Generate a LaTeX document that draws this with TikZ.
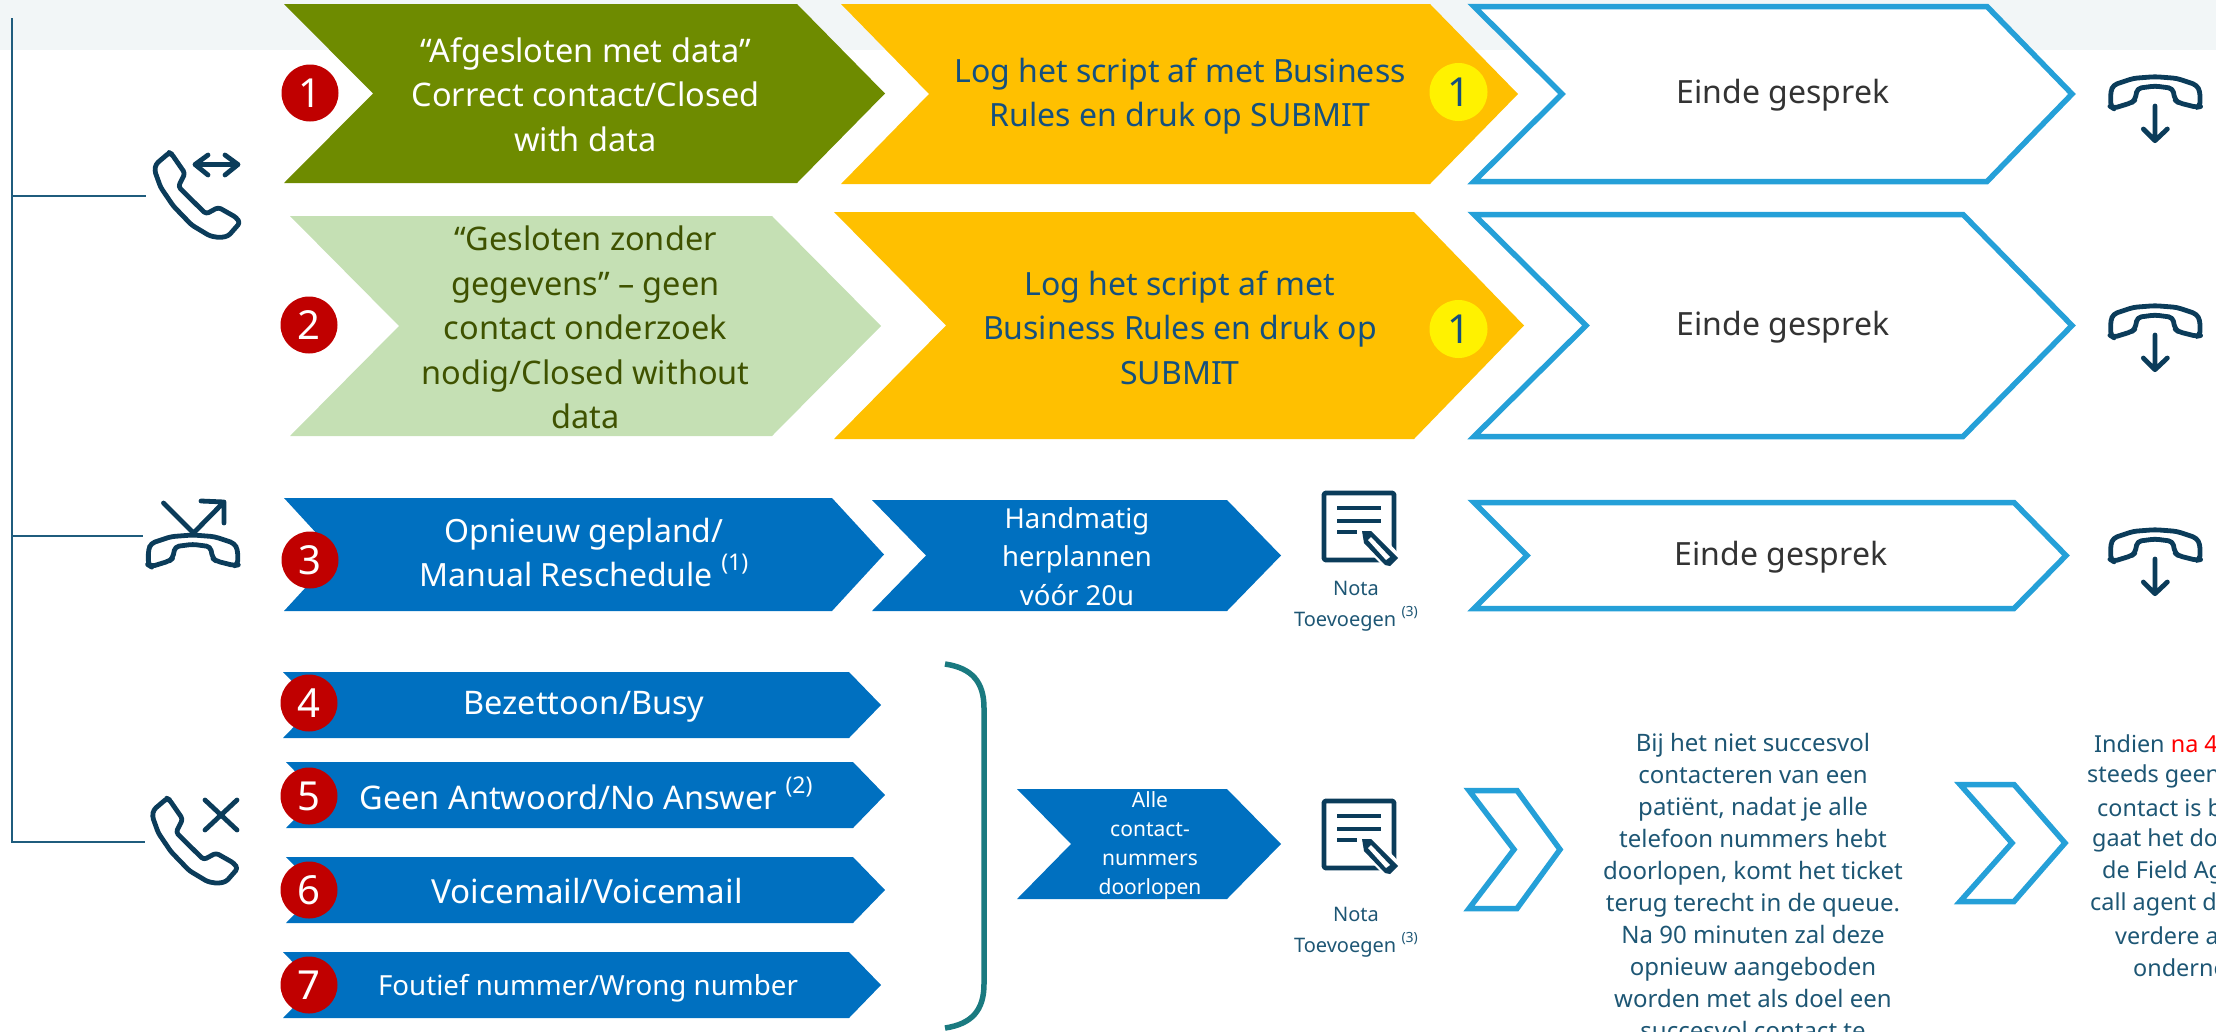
\documentclass[tikz,border=0pt]{standalone}
\usepackage{fontspec}
\setmainfont{Noto Sans}
\definecolor{stripbg}{HTML}{F2F6F7}
\definecolor{oliveg}{HTML}{6E8B00}
\definecolor{lightg}{HTML}{C5E0B4}
\definecolor{olivetext}{HTML}{3F5200}
\definecolor{gold}{HTML}{FFC000}
\definecolor{royal}{HTML}{0070C0}
\definecolor{sky}{HTML}{25A0D8}
\definecolor{navy}{HTML}{0B3C5A}
\definecolor{trunkc}{HTML}{1F5C7D}
\definecolor{parac}{HTML}{1D5674}
\definecolor{goldtext}{HTML}{14507F}
\definecolor{badge}{HTML}{C00000}
\definecolor{bracec}{HTML}{1A7A80}
\newcommand{\fsz}[2]{\fontsize{#1}{#2}\selectfont}
\newcommand{\supx}[1]{\raisebox{.5em}{\fontsize{23}{23}\selectfont #1}}
% \chev{style}{left}{topright}{tip}{notch}{top}{bottom}
\newcommand{\chev}[7]{\path[#1] (#2,#6) -- (#3,#6) -- (#4,{(#6+#7)/2}) -- (#3,#7) -- (#2,#7) -- (#5,{(#6+#7)/2}) -- cycle;}
\tikzset{
  x=1pt,y=-1pt,
  chevgreen/.style={fill=oliveg},
  chevlight/.style={fill=lightg},
  chevgold/.style={fill=gold},
  chevblue/.style={fill=royal},
  chevline/.style={draw=sky,fill=white,line width=5.5pt,miter limit=10},
  badgeo/.style={circle,fill=badge,text=white,minimum size=57pt,inner sep=0pt,font=\fsz{40}{40}},
  badgey/.style={circle,fill=yellow,text=goldtext,minimum size=58pt,inner sep=0pt,font=\fsz{40}{40}},
  lbl/.style={align=center,inner sep=0pt},
  branch/.style={draw=trunkc,line width=2pt},
  iconl/.style={draw=navy,line width=4.8pt,line join=round,line cap=round},
  pics/callh/.style={code={
    \draw[iconl,rounded corners=3pt,scale=1/3] (118,68)--(78,102)--(74,122)--(92,172)--(130,228)--(185,285)--(240,318)--(270,323)--(295,318)--(330,278)--(318,262)--(265,232)--(228,252)--(145,170)--(165,130)--(125,72)--cycle;
  }},
  pics/hangh/.style={code={
    \draw[iconl,rounded corners=4pt,scale=1/3] (92,125)--(100,105)--(160,85)--(225,80)--(290,85)--(350,105)--(360,125)--(360,170)--(350,172)--(295,158)--(285,150)--(278,115)--(225,108)--(172,115)--(165,150)--(155,158)--(100,175)--(92,170)--cycle;
  }},
  pics/hangdown/.style={code={
    \pic {hangh};
    \draw[iconl,scale=1/3] (225,168)--(225,270) (190,237)--(225,272)--(262,237);
  }},
  pics/noteic/.style={code={
    \draw[iconl,rounded corners=1.5pt] (0,0) rectangle (70,67);
    \draw[iconl,line cap=butt,line width=3.6pt] (13,15)--(57,15) (13,28)--(57,28) (13,39)--(33,39);
    \path[fill=white] (34,34) -- (50,34) -- (78,64) -- (64,78) -- (34,48) -- cycle;
    \path[fill=navy] (38,38) -- (47,38) -- (74,65) -- (66,73) -- (61,72) -- (40,50) -- cycle;
    \path[fill=white] (44,47) -- (47,44) -- (66,64) -- (62,67) -- cycle;
  }}
}
\begin{document}
\begin{tikzpicture}
\useasboundingbox (0,0) rectangle (2216,1031);
\clip (0,0) rectangle (2216,1031);
\fill[stripbg] (0,0) rectangle (2216,50);

% tree lines
\coordinate (ttop) at (11.5,18);
\coordinate (b1) at (11.5,196);
\coordinate (e1) at (146,196);
\coordinate (b2) at (11.5,536);
\coordinate (e2) at (143,536);
\coordinate (b3) at (11.5,842);
\coordinate (e3) at (145,842);
\draw[branch] (ttop) -- (b3) -- (e3);
\draw[branch] (b1) -- (e1);
\draw[branch] (b2) -- (e2);

% row 1
\chev{chevgreen}{284}{797}{885}{373}{4}{183}
\chev{chevgold}{841}{1430}{1518}{929}{4}{184}
\chev{chevline}{1474}{1987}{2072}{1562}{6.5}{181.5}
% row 2
\chev{chevlight}{290}{772}{881}{399}{216}{436}
\chev{chevgold}{834}{1414}{1524}{946}{212}{439}
\chev{chevline}{1474}{1963}{2072}{1586}{214.5}{436.5}
% row 3
\chev{chevblue}{284}{832}{884}{336}{498}{611}
\chev{chevblue}{872}{1227}{1281}{926}{500}{611}
\chev{chevline}{1474}{2014}{2066}{1527}{502.5}{608.5}
% rows 4-7
\chev{chevblue}{283}{849}{881}{315}{672}{738}
\chev{chevblue}{286}{853}{885}{318}{762}{828}
\chev{chevblue}{286}{853}{885}{318}{857}{923}
\chev{chevblue}{283}{849}{881}{315}{952}{1018}
\chev{chevblue}{1017}{1227}{1281}{1071}{789}{899}
% small outline chevrons
\chev{chevline}{1469}{1517}{1560}{1514}{790.5}{908.5}
\chev{chevline}{1960}{2014}{2065}{2012}{784.5}{901.5}

% brace
\coordinate (bra) at (945,664);
\coordinate (brb) at (945,1028);
\draw[bracec,line width=5.5pt] (bra) .. controls (972,668) and (984,682) .. (984,708) -- (984,984) .. controls (984,1010) and (972,1024) .. (brb);

% labels
\node[lbl,text=white,font=\fsz{32.5}{44.5}] (t1) at (585.5,94.5) {“Afgesloten met data”\\Correct contact/Closed\\with data};
\node[lbl,text=olivetext,font=\fsz{32.5}{44.5}] (t2) at (585.5,327.5) {“Gesloten zonder\\gegevens” – geen\\contact onderzoek\\nodig/Closed without\\data};
\node[lbl,text=goldtext,font=\fsz{32}{44.5}] (y1) at (1180,96) {Log het script af met Business\\Rules en druk op SUBMIT};
\node[lbl,text=goldtext,font=\fsz{32}{44.5}] (y2) at (1180,327.5) {Log het script af met\\Business Rules en druk op\\SUBMIT};
\node[lbl,text=black!80,font=\fsz{32}{40}] (e1t) at (1783,95) {Einde gesprek};
\node[lbl,text=black!80,font=\fsz{32}{40}] (e2t) at (1783,327) {Einde gesprek};
\node[lbl,text=black!80,font=\fsz{32}{40}] (e3t) at (1781,557) {Einde gesprek};
\node[lbl,text=white,font=\fsz{32}{44}] (r3) at (584,552) {Opnieuw gepland/\\Manual Reschedule \supx{(1)}};
\node[lbl,text=white,font=\fsz{27.5}{38.5}] (r3b) at (1077,556.5) {Handmatig\\herplannen\\vóór 20u};
\node[lbl,text=white,font=\fsz{32.5}{40}] (r4) at (584,707) {Bezettoon/Busy};
\node[lbl,text=white,font=\fsz{32.5}{40}] (r5) at (586,793) {Geen Antwoord/No Answer \supx{(2)}};
\node[lbl,text=white,font=\fsz{33.2}{40}] (r6) at (587,891) {Voicemail/Voicemail};
\node[lbl,text=white,font=\fsz{27.7}{40}] (r7) at (588,988) {Foutief nummer/Wrong number};
\node[lbl,text=white,font=\fsz{21}{29}] (r8) at (1150,845.5) {Alle\\contact-\\nummers\\doorlopen};
\node[lbl,text=parac,font=\fsz{20}{31}] (n1) at (1356,606) {Nota\\Toevoegen \raisebox{.5em}{\fontsize{14}{14}\selectfont(3)}};
\node[lbl,text=parac,font=\fsz{20}{31}] (n2) at (1356,932) {Nota\\Toevoegen \raisebox{.5em}{\fontsize{14}{14}\selectfont(3)}};
\node[lbl,text=parac,font=\fsz{24}{32},anchor=north] (para) at (1753,733) {Bij het niet succesvol\\contacteren van een\\patiënt, nadat je alle\\telefoon nummers hebt\\doorlopen, komt het ticket\\terug terecht in de queue.\\Na 90 minuten zal deze\\opnieuw aangeboden\\worden met als doel een\\succesvol contact te};
% right paragraph, cut by the page edge
\node[lbl,text=parac,font=\fsz{23.4}{32},anchor=west] (q1) at (2094,744) {Indien \textcolor{red}{na 48}};
\node[lbl,text=parac,font=\fsz{23.4}{32},anchor=west] (q2) at (2087,776) {steeds geen};
\node[lbl,text=parac,font=\fsz{23.4}{32},anchor=west] (q3) at (2097,808) {contact is be};
\node[lbl,text=parac,font=\fsz{23.4}{32},anchor=west] (q4) at (2092,840) {gaat het dos};
\node[lbl,text=parac,font=\fsz{23.4}{32},anchor=west] (q5) at (2102,872) {de Field Age};
\node[lbl,text=parac,font=\fsz{23.4}{32},anchor=west] (q6) at (2090,904) {call agent die};
\node[lbl,text=parac,font=\fsz{23.4}{32},anchor=west] (q7) at (2115,936) {verdere ac};
\node[lbl,text=parac,font=\fsz{23.4}{32},anchor=west] (q8) at (2133,968) {onderne};

% badges
\node[badgeo] (c1) at (310,93) {1};
\node[badgeo] (c2) at (309,325) {2};
\node[badgeo] (c3) at (310,560) {3};
\node[badgeo] (c4) at (309,703) {4};
\node[badgeo] (c5) at (309,796) {5};
\node[badgeo] (c6) at (309,890) {6};
\node[badgeo] (c7) at (309,985) {7};
\node[badgey] (g1) at (1458.5,92) {1};
\node[badgey] (g2) at (1458.5,329) {1};

% icons
\pic at (130,130) {callh};
\coordinate (aa) at (195,164.5);
\coordinate (ab) at (238,164.5);
\draw[iconl] (aa) -- (ab) (208,155) -- (aa) -- (208,175) (225,155) -- (ab) -- (225,175);
\pic at (127.7,775.7) {callh};
\coordinate (xa) at (205,800);
\coordinate (xb) at (237,830);
\coordinate (xc) at (237,800);
\coordinate (xd) at (205,830);
\draw[iconl] (xa) -- (xb) (xc) -- (xd);
\pic at (117.7,508.3) {hangh};
\coordinate (ra) at (163.5,503);
\coordinate (rb) at (193.5,533);
\coordinate (rc) at (224,502);
\draw[iconl] (ra) -- (rb) -- (rc) (201,501) -- (rc) -- (224,523);
\pic at (2080,50) {hangdown};
\pic at (2080,279) {hangdown};
\pic at (2080,503) {hangdown};
\pic at (1324,493) {noteic};
\pic at (1324,801) {noteic};
\end{tikzpicture}
\end{document}
